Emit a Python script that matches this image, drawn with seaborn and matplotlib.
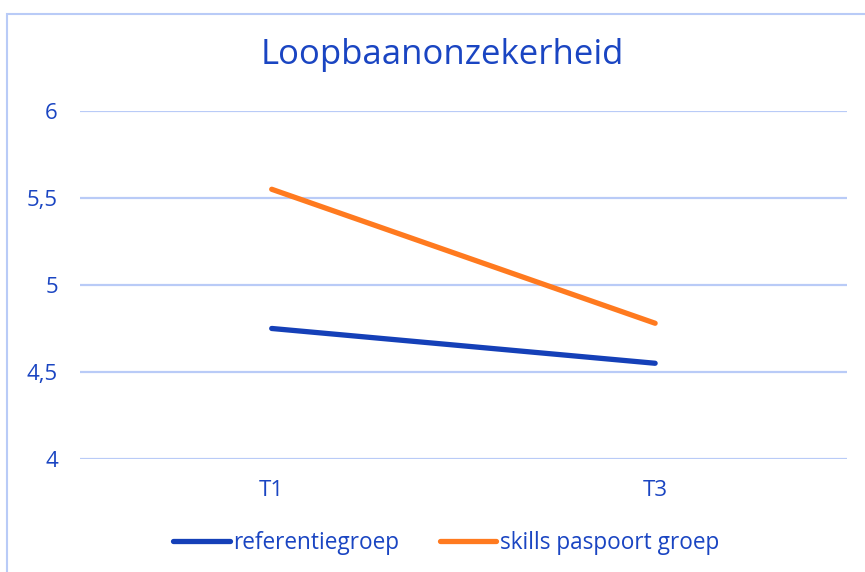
import matplotlib.pyplot as plt
import pandas as pd
import seaborn as sns
from matplotlib.patches import Rectangle
from matplotlib.ticker import FuncFormatter

sns.set_theme(style="white")
plt.rcParams["font.family"] = ["Open Sans", "DejaVu Sans"]

moments = ["T1", "T3"]
referentiegroep = [4.75, 4.55]
skills_paspoort = [5.55, 4.78]
groups = ["referentiegroep", "skills paspoort groep"]

text_blue = "#1a45c2"
grid_blue = "#b9cbf7"
palette = {"referentiegroep": "#1540b8", "skills paspoort groep": "#ff7a1f"}

df = pd.DataFrame(
    {
        "moment": moments * 2,
        "score": referentiegroep + skills_paspoort,
        "groep": [groups[0]] * len(moments) + [groups[1]] * len(moments),
    }
)

fig = plt.figure(figsize=(8.65, 5.72), dpi=100)
ax = fig.add_axes([0.0925, 0.1976, 0.8865, 0.6084])

sns.lineplot(
    data=df,
    x="moment",
    y="score",
    hue="groep",
    palette=palette,
    linewidth=3.8,
    solid_capstyle="round",
    ax=ax,
)

ax.set_xlim(-0.5, 1.5)
ax.set_ylim(4, 6)
ax.set_yticks([4, 4.5, 5, 5.5, 6])
ax.yaxis.set_major_formatter(FuncFormatter(lambda v, _: f"{v:g}".replace(".", ",")))
ax.grid(axis="y", color=grid_blue, linewidth=1.6)
ax.grid(axis="x", visible=False)
for s in ax.spines.values():
    s.set_visible(False)
ax.tick_params(axis="y", colors=text_blue, labelsize=16, pad=16, length=0)
ax.tick_params(axis="x", colors=text_blue, labelsize=16, pad=15, length=0)
ax.set_xlabel("")
ax.set_ylabel("")

fig.text(442 / 865, 1 - 55 / 572, "Loopbaanonzekerheid", color=text_blue,
         fontsize=25, ha="center", va="center")

leg = ax.legend(
    loc="center",
    bbox_to_anchor=(446 / 865, 1 - 543 / 572),
    bbox_transform=fig.transFigure,
    ncol=2,
    frameon=False,
    fontsize=16.3,
    handlelength=2.5,
    handletextpad=0.15,
    columnspacing=1.8,
)
for t in leg.get_texts():
    t.set_color(text_blue)

fig.patches.append(
    Rectangle((7 / 865, -0.1), 1.2, 1 - 14 / 572 + 0.1, transform=fig.transFigure,
              fill=False, edgecolor=grid_blue, linewidth=1.5)
)

fig.savefig("out.png", dpi=100)
